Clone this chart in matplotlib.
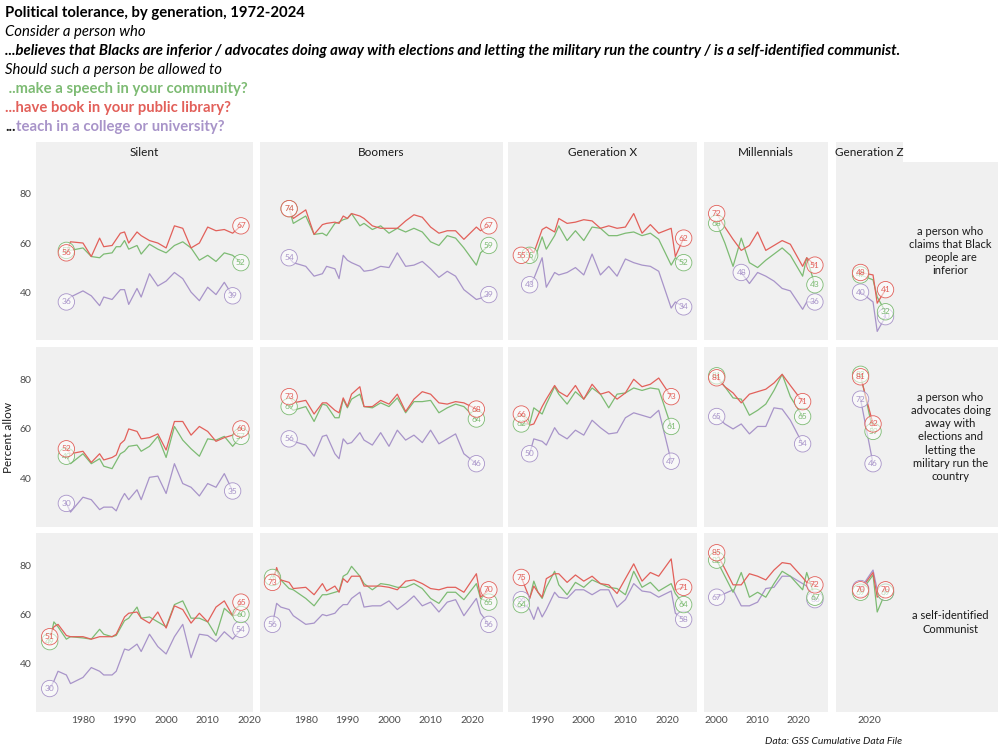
import numpy as np
import matplotlib.pyplot as plt

plt.rcParams['font.family'] = ['Lato', 'DejaVu Sans']

# %%
# Data: percent who would allow, by generation and kind of person
generations = ['Silent', 'Boomers', 'Generation X', 'Millennials', 'Generation Z']
row_labels = ['a person who\nclaims that Black\npeople are\ninferior',
              'a person who\nadvocates doing\naway with\nelections and\nletting the\nmilitary run the\ncountry',
              'a self-identified\nCommunist']

# --- believes Blacks are inferior ---
silent_racist_years = [1976, 1977, 1980, 1982, 1984, 1985, 1987, 1988, 1989, 1990, 1991, 1993, 1994,
                       1996, 1998, 2000, 2002, 2004, 2006, 2008, 2010, 2012, 2014, 2016, 2018]
silent_racist_speech = [57, 57, 58, 54.5, 54, 55.5, 56, 58.5, 58.5, 61, 57.5, 59, 55.5,
                        59.5, 57.5, 56, 59, 60.5, 58, 53, 55, 52.5, 56, 55, 52]
silent_racist_library = [56, 60.5, 60, 54.5, 62, 58.5, 59, 61.5, 64, 64.5, 60, 64.5, 63,
                         61, 60, 58, 67, 66, 58, 60, 66.5, 65, 65.5, 64, 67]
silent_racist_college = [36, 38, 40.5, 38.5, 34.5, 38, 37, 39, 41, 41, 35, 41.5, 38,
                         47.5, 42.5, 44.5, 48, 45.5, 40, 36.5, 42, 39, 44, 38.5, None]

boomers_racist_years = [1976, 1977, 1980, 1982, 1984, 1985, 1987, 1988, 1989, 1990, 1991, 1993, 1994, 1996,
                        1998, 2000, 2002, 2004, 2006, 2008, 2010, 2012, 2014, 2016, 2018, 2021, 2022, 2024]
boomers_racist_speech = [74, 68, 71, 63.5, 64, 63, 68, 68.5, 69.5, 70, 72, 67, 68, 65.5,
                         67, 64, 66, 64.5, 66, 64.5, 60.5, 59, 63, 62, 58, 51, 56, 59]
boomers_racist_library = [74, 70, 73.5, 63.5, 67.5, 68, 68.5, 68, 71, 70, 72, 71, 70, 67,
                          66, 66, 66, 69, 71.5, 70.5, 66.5, 64, 65, 65, 61.5, 66.5, 65, 67]
boomers_racist_college = [54, 52, 50.5, 46.5, 47.5, 50.5, 49.5, 45.5, 55, 53, 52, 50.5, 48.5, 49,
                          50.5, 50, 56, 50.5, 51, 52.5, 49.5, 46, 48.5, 46.5, 41, 37, 37.5, 39]

genx_racist_years = [1985, 1987, 1988, 1990, 1991, 1993, 1994, 1996, 1998, 2000, 2002,
                     2004, 2006, 2008, 2010, 2012, 2014, 2016, 2018, 2021, 2022, 2024]
genx_racist_speech = [None, 55, 52.5, 62.5, 57.5, 63, 67, 61, 65, 61, 66.5,
                      66, 63, 63, 64, 64.5, 63, 64, 61.5, 51, 54, 52]
genx_racist_library = [55, 58, 56, 65.5, 66.5, 64.5, 70, 68, 68.5, 69.5, 69,
                       66, 67, 66, 66.5, 72, 64, 67.5, 64, 66, 54.5, 62]
genx_racist_college = [None, 43, 45.5, 54, 42, 48, 47, 48, 50, 47, 55.5,
                       47, 50.5, 46.5, 53.5, 52, 51, 50.5, 48.5, 33.5, 36, 34]

mill_racist_years = [2000, 2002, 2004, 2006, 2008, 2010, 2012, 2014, 2016, 2018, 2021, 2022, 2024]
mill_racist_speech = [68, 60, 50.5, 62, 52, 50, 53, 55.5, 58, 55, 46.5, 54, 43]
mill_racist_library = [72, 66.5, 61.5, 57, 59, 64.5, 57, 59, 61, 59.5, 50.5, 54, 51]
mill_racist_college = [None, None, None, 48, 43.5, 48, 46.5, 44.5, 41.5, 40.5, 33, 36, 36]

genz_racist_years = [2018, 2021, 2022, 2024]
genz_racist_speech = [47, 45, 38, 32]
genz_racist_library = [48, 47, 35.5, 41]
genz_racist_college = [40, 36, 24, 30]

# --- advocates military rule ---
silent_mil_years = silent_racist_years
silent_mil_speech = [49, 46, 50, 46, 48, 45, 44, 47, 50, 51, 53, 53.5, 51,
                     53, 57, 48.5, 61, 55.5, 52, 49, 56, 55.5, 57, 53, 57]
silent_mil_library = [52, 50, 51, 46.5, 50, 47.5, 48.5, 49.5, 54, 55.5, 60, 59, 56,
                      56.5, 58, 51.5, 63, 63, 57.5, 61, 59, 55, 56.5, 57.5, 60]
silent_mil_college = [30, 26.5, 32.5, 31.5, 27.5, 28.5, 28.5, 27, 31, 34, 31.5, 35.5, 31.5,
                      40.5, 41, 34, 46, 38, 36.5, 33, 38, 36.5, 42, 35, None]

boomers_mil_years = [1976, 1977, 1980, 1982, 1984, 1985, 1987, 1988, 1989, 1990, 1991, 1993, 1994,
                     1996, 1998, 2000, 2002, 2004, 2006, 2008, 2010, 2012, 2014, 2016, 2018, 2021]
boomers_mil_speech = [69, 67.5, 69, 63, 70, 69.5, 64.5, 64.5, 72, 68.5, 72, 74, 69,
                      68.5, 70.5, 69, 72.5, 66.5, 71, 71, 71.5, 66.5, 68.5, 70, 69, 64]
boomers_mil_library = [73, 70.5, 71.5, 66, 70.5, 70.5, 67.5, 66.5, 72.5, 69, 74, 77, 69,
                       69, 71.5, 70, 74, 67, 72, 75, 74, 70.5, 70, 71, 70.5, 68]
boomers_mil_college = [56, 55, 53.5, 49, 57, 57.5, 50, 48, 56, 54, 54.5, 58.5, 55.5,
                       53.5, 58.5, 53, 59.5, 55.5, 57.5, 54.5, 59.5, 54, 56, 58, 50, 46]

genx_mil_years = [1985, 1987, 1988, 1990, 1991, 1993, 1994, 1996, 1998, 2000,
                  2002, 2004, 2006, 2008, 2010, 2012, 2014, 2016, 2018, 2021]
genx_mil_speech = [62, 62, 68.5, 66, 70, 77, 74, 70, 75, 72,
                   76.5, 74, 68.5, 74, 74.5, 76.5, 75.5, 76.5, 76, 61]
genx_mil_library = [66, 61.5, 62, 69, 72, 77.5, 75, 73, 77.5, 72,
                    78, 74, 75, 72, 74.5, 80, 77, 78, 80.5, 73]
genx_mil_college = [None, 50, 56, 55, 53.5, 60.5, 58, 56, 59.5, 57.5,
                    63.5, 60.5, 58, 58.5, 64.5, 66.5, 65.5, 64.5, 67.5, 47]

mill_mil_years = [2000, 2002, 2004, 2006, 2008, 2010, 2012, 2014, 2016, 2018, 2021]
mill_mil_speech = [81.4, 77, 72.5, 72, 65.5, 67.5, 70, 75.5, 82, 73, 65]
mill_mil_library = [80.6, 77, 74.5, 70.5, 74, 75, 76, 78.5, 82, 77.5, 71]
mill_mil_college = [65, 62, 60, 62, 58, 61, 61, 68.5, 68, 63.5, 54]

genz_mil_years = [2018, 2021]
genz_mil_speech = [82, 59]
genz_mil_library = [81, 62]
genz_mil_college = [72, 46]

# --- self-identified communist ---
silent_com_years = [1972, 1973, 1974, 1976, 1977, 1980, 1982, 1984, 1985, 1987, 1988, 1990, 1991, 1993,
                    1994, 1996, 1998, 2000, 2002, 2004, 2006, 2008, 2010, 2012, 2014, 2016, 2018]
silent_com_speech = [49, 57, 55, 50, 51, 50.5, 50, 54, 52, 51, 51.5, 57.5, 58.5, 63,
                     58.5, 59, 57, 55, 64, 65.5, 58.5, 58.5, 57, 51.5, 62.5, 59.5, 60]
silent_com_library = [51, 55, 56, 51.5, 51, 51, 50, 51, 51, 51, 52, 59, 60.5, 61,
                      58.5, 56.5, 61, 54.5, 63.5, 62, 56.5, 60.5, 57, 63, 65.5, 59.5, 65]
silent_com_college = [30, 33, 37, 35.5, 32, 34.5, 38.5, 37, 35.5, 35.5, 37, 46, 45.5, 48,
                      45, 52, 47, 44, 51, 56, 42.5, 52, 51.5, 49, 53, 50, 54]

boomers_com_years = [1972, 1973, 1974, 1976, 1977, 1980, 1982, 1984, 1985, 1987, 1988, 1989, 1990, 1991,
                     1993, 1994, 1996, 1998, 2000, 2002, 2004, 2006, 2008, 2010, 2012, 2014, 2016, 2018,
                     2021, 2022, 2024]
boomers_com_speech = [75, 78, 74, 70.5, 70, 66.5, 63.5, 68, 68, 69, 69.5, 75.5, 76.5, 79.5,
                      75.5, 72.5, 70, 72.5, 72, 71, 71, 72.5, 70.5, 66.5, 64.5, 69, 69, 66,
                      72.5, 66.5, 65]
boomers_com_library = [73, 79, 74, 73, 70.5, 71, 68, 72.5, 69.5, 71.5, 69, 74.5, 73, 75.5,
                       75.5, 71.5, 71.5, 71.5, 71, 70, 73.5, 74, 72.5, 70.5, 70, 71, 71, 69,
                       76.5, 67, 70]
boomers_com_college = [56, 64.5, 63, 62, 59.5, 56, 56.5, 60, 59.5, 60.5, 62.5, 64, 64, 66.5,
                       69, 63, 63.5, 63.5, 65.5, 62, 64.5, 67.5, 63.5, 65, 61, 65, 66, 59.5,
                       66.5, 60.5, 56]

genx_com_years = [1985, 1987, 1988, 1989, 1990, 1991, 1993, 1994, 1996, 1998, 2000, 2002,
                  2004, 2006, 2008, 2010, 2012, 2014, 2016, 2018, 2021, 2022, 2024]
genx_com_speech = [64, 66.5, 73.5, 69, 66.5, 71, 77.5, 72, 68, 73, 71, 74,
                   72.5, 71, 70.5, 68, 77.5, 71, 73, 69.5, 72.5, 68.5, 64]
genx_com_library = [75, 66.5, 71.5, 69, 67, 74.5, 76.5, 76.5, 73, 76, 73.5, 75.5,
                    72.5, 72, 68.5, 74.5, 80.5, 73.5, 77, 75.5, 82.5, 70, 71]
genx_com_college = [66, 62, 58, 63, 59, 62, 69, 67, 66.5, 70, 70, 68,
                    70, 70, 63, 66, 72.5, 69.5, 69, 67, 69.5, 60.5, 58]

mill_com_years = [2000, 2004, 2006, 2008, 2010, 2012, 2014, 2016, 2018, 2021, 2022, 2024]
mill_com_speech = [82, 69, 77, 67, 69, 67, 72.5, 77.5, 75.5, 70, 77, 67]
mill_com_library = [85, 72, 72, 76.5, 75.5, 74, 78, 81, 80.5, 75, 73, 72]
mill_com_college = [67, 70, 63.5, 63.5, 65, 70.5, 71, 75.5, 75.5, 72.5, 71.5, 66]

genz_com_years = [2018, 2021, 2022, 2024]
genz_com_speech = [69, 76, 61, 69]
genz_com_library = [70, 77, 67, 70]
genz_com_college = [70.5, 78, 70, 69]

panels = [
    [(silent_racist_years, silent_racist_speech, silent_racist_library, silent_racist_college),
     (boomers_racist_years, boomers_racist_speech, boomers_racist_library, boomers_racist_college),
     (genx_racist_years, genx_racist_speech, genx_racist_library, genx_racist_college),
     (mill_racist_years, mill_racist_speech, mill_racist_library, mill_racist_college),
     (genz_racist_years, genz_racist_speech, genz_racist_library, genz_racist_college)],
    [(silent_mil_years, silent_mil_speech, silent_mil_library, silent_mil_college),
     (boomers_mil_years, boomers_mil_speech, boomers_mil_library, boomers_mil_college),
     (genx_mil_years, genx_mil_speech, genx_mil_library, genx_mil_college),
     (mill_mil_years, mill_mil_speech, mill_mil_library, mill_mil_college),
     (genz_mil_years, genz_mil_speech, genz_mil_library, genz_mil_college)],
    [(silent_com_years, silent_com_speech, silent_com_library, silent_com_college),
     (boomers_com_years, boomers_com_speech, boomers_com_library, boomers_com_college),
     (genx_com_years, genx_com_speech, genx_com_library, genx_com_college),
     (mill_com_years, mill_com_speech, mill_com_library, mill_com_college),
     (genz_com_years, genz_com_speech, genz_com_library, genz_com_college)],
]

# %%
# Layout (pixels of the 1000x751 picture)
GREEN, RED, PURPLE = '#7dbb73', '#e2605a', '#a894c9'
PANEL_BG = '#f0f0f0'
W, H = 1000, 751
col_px = [(36, 253), (260, 503), (508, 697), (704, 828), (836, 903)]
row_px = [(162, 340), (347, 527), (533, 712)]
xlims = [(1968.7, 2020.9), (1969.0, 2027.4), (1981.8, 2027.2), (1996.9, 2027.2), (2012.1, 2028.2)]
ylim = (20.5, 93)


def box(x0, y0, x1, y1):
    return [x0 / W, 1 - y1 / H, (x1 - x0) / W, (y1 - y0) / H]


def clean(ax):
    ax.set_facecolor(PANEL_BG)
    for s in ax.spines.values():
        s.set_visible(False)
    ax.tick_params(length=0, colors='#4d4d4d', labelsize=7.5, pad=3)


def label(ax, x, y, col):
    ax.text(x, y, f'{int(np.floor(y + 0.5))}', ha='center', va='center', fontsize=6,
            color=col, zorder=5,
            bbox=dict(boxstyle='circle,pad=0.4', fc=(1, 1, 1, 0.55), ec=col, lw=0.6))


fig = plt.figure(figsize=(10, 7.51), dpi=100)

for r, (ry0, ry1) in enumerate(row_px):
    for c, (cx0, cx1) in enumerate(col_px):
        ax = fig.add_axes(box(cx0, ry0, cx1, ry1))
        clean(ax)
        ax.set_xlim(*xlims[c])
        ax.set_ylim(*ylim)
        ax.set_yticks([40, 60, 80])
        ax.set_xticks([t for t in range(1980, 2030, 10) if xlims[c][0] < t < xlims[c][1]])
        if c > 0:
            ax.set_yticklabels([])
        if r < 2:
            ax.set_xticklabels([])
        years, speech, library, college = panels[r][c]
        yrs = np.array(years, float)
        for vals, col in ((college, PURPLE), (speech, GREEN), (library, RED)):
            v = np.array([np.nan if x is None else x for x in vals], float)
            ax.plot(yrs, v, color=col, lw=0.9, zorder=3)
            ok = np.flatnonzero(~np.isnan(v))
            label(ax, yrs[ok[0]], v[ok[0]], col)
            label(ax, yrs[ok[-1]], v[ok[-1]], col)

    # row strip on the right
    sax = fig.add_axes(box(903, ry0, 998, ry1))
    clean(sax)
    sax.set_xticks([])
    sax.set_yticks([])
    sax.text(0.5, 0.5, row_labels[r], ha='center', va='center', fontsize=8,
             color='#1a1a1a', linespacing=1.25, transform=sax.transAxes)

# column strips on top
for c, (cx0, cx1) in enumerate(col_px):
    sax = fig.add_axes(box(cx0, 142, cx1, 162))
    clean(sax)
    sax.set_xticks([])
    sax.set_yticks([])
    sax.text(0.5, 0.5, generations[c], ha='center', va='center', fontsize=8.5,
             color='#1a1a1a', transform=sax.transAxes)


# titles
def ftext(x, y, s, **kw):
    return fig.text(x / W, 1 - y / H, s, va='center', ha='left', **kw)


FS = 10.75
ftext(5, 13, 'Political tolerance, by generation, 1972-2024', fontsize=FS, fontweight='bold')
ftext(5, 32, 'Consider a person who', fontsize=FS, style='italic')
ftext(5, 51, '...believes that Blacks are inferior / advocates doing away with elections and letting '
      'the military run the country / is a self-identified communist.',
      fontsize=FS, style='italic', fontweight='bold')
ftext(5, 70, 'Should such a person be allowed to', fontsize=FS, style='italic')
ftext(5, 89, ' ..make a speech in your community?', fontsize=FS, fontweight='bold', color=GREEN)
ftext(5, 108, '...have book in your public library?', fontsize=FS, fontweight='bold', color=RED)
dots = ftext(5, 127, '...', fontsize=FS, fontweight='bold', color='#1a1a1a')
plt.annotate('teach in a college or university?', xy=(1, 0.5), xycoords=dots, va='center',
             ha='left', fontsize=FS, fontweight='bold', color=PURPLE)

fig.text(9 / W, 1 - 437 / H, 'Percent allow', rotation=90, ha='center', va='center',
         fontsize=8.5, color='#1a1a1a')
fig.text(902 / W, 1 - 742 / H, 'Data: GSS Cumulative Data File', ha='right', va='center',
         fontsize=7.5, style='italic', color='#1a1a1a')

fig.savefig('out.png', dpi=100)
